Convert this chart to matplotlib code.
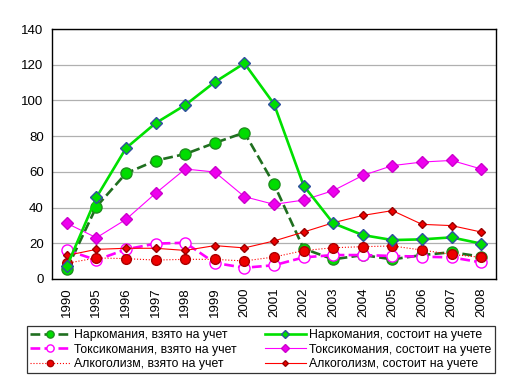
import matplotlib
matplotlib.use("Agg")
import matplotlib.pyplot as plt

plt.rcParams['font.family'] = ['Liberation Sans', 'DejaVu Sans']

years = ['1990', '1995', '1996', '1997', '1998', '1999', '2000', '2001',
         '2002', '2003', '2004', '2005', '2006', '2007', '2008']

narco_taken = [5.5, 40.5, 59.2, 66.3, 70, 76.2, 82, 53.1, 17, 11, 13.4, 11, 13.4, 15, 12.5]
narco_reg = [7, 45.7, 73.3, 87.3, 97.4, 110.3, 120.8, 98, 52.3, 31.2, 24.6, 21.8, 22.2, 23.3, 19.8]
toxic_taken = [16.2, 10.6, 16.6, 19.8, 20.3, 9, 6.3, 7.7, 12.1, 13.4, 13.4, 12.9, 12.5, 12.1, 9.3]
toxic_reg = [31.2, 23.1, 33.4, 48, 61.6, 59.9, 46.1, 41.8, 44.2, 49.5, 58, 63.5, 65.5, 66.4, 61.6]
alco_taken = [8.8, 11.8, 11.4, 10.6, 11, 11, 10.1, 12.3, 15.9, 17.5, 18.1, 18.5, 16.2, 13.8, 12.1]
alco_reg = [13.2, 16.6, 17.2, 17.2, 16, 18.7, 17.4, 21.3, 26.3, 31.5, 35.6, 38.3, 30.6, 29.9, 26.3]

x = range(len(years))

fig = plt.figure(figsize=(5.12, 3.89), dpi=100)
ax = fig.add_axes([0.1016, 0.2828, 0.8672, 0.6426])

ax.plot(x, narco_taken, color='#1f6f1f', linestyle='--', linewidth=1.9,
        marker='o', markersize=8, markerfacecolor='#00dd00', markeredgecolor='#1f8f1f',
        label='Наркомания, взято на учет', zorder=3)
ax.plot(x, toxic_taken, color='#ff00ff', linestyle='--', linewidth=1.9,
        marker='o', markersize=8, markerfacecolor='white', markeredgecolor='#ff00ff',
        label='Токсикомания, взято на учет', zorder=3)
ax.plot(x, alco_taken, color='#ff0000', linestyle=':', linewidth=0.8,
        marker='o', markersize=7, markerfacecolor='#ee0000', markeredgecolor='#aa0000',
        label='Алкоголизм, взято на учет', zorder=3)
ax.plot(x, narco_reg, color='#00e000', linestyle='-', linewidth=1.9,
        marker='D', markersize=6, markerfacecolor='#00dd00', markeredgecolor='#2f4f9f',
        label='Наркомания, состоит на учете', zorder=4)
ax.plot(x, toxic_reg, color='#ff00ff', linestyle='-', linewidth=0.8,
        marker='D', markersize=6.5, markerfacecolor='#ee00ee', markeredgecolor='#cc00cc',
        label='Токсикомания, состоит на учете', zorder=3)
ax.plot(x, alco_reg, color='#ff0000', linestyle='-', linewidth=0.8,
        marker='D', markersize=4.5, markerfacecolor='#ee0000', markeredgecolor='#990000',
        label='Алкоголизм, состоит на учете', zorder=3)

ax.set_xlim(-0.5, len(years) - 0.5)
ax.set_ylim(0, 140)
ax.set_yticks(range(0, 141, 20))
ax.set_xticks(list(x))
ax.set_xticklabels(years, rotation=90)
ax.tick_params(length=0, labelsize=9.5, pad=6)
ax.yaxis.grid(True, color='#b0b0b0', linewidth=0.9)
ax.set_axisbelow(True)
for s in ax.spines.values():
    s.set_linewidth(1.0)
    s.set_color('black')

leg = fig.legend(loc='lower left', bbox_to_anchor=(0.0404, 0.0249, 0.9375, 0.1209),
                 mode='expand', ncol=2, fontsize=8.8, numpoints=1, frameon=True,
                 fancybox=False, edgecolor='black', borderpad=0.25, labelspacing=0.2,
                 handlelength=3.3, handletextpad=0.3, columnspacing=2.5,
                 markerscale=0.65)
leg.get_frame().set_linewidth(0.9)

fig.savefig('out.png', dpi=100)
